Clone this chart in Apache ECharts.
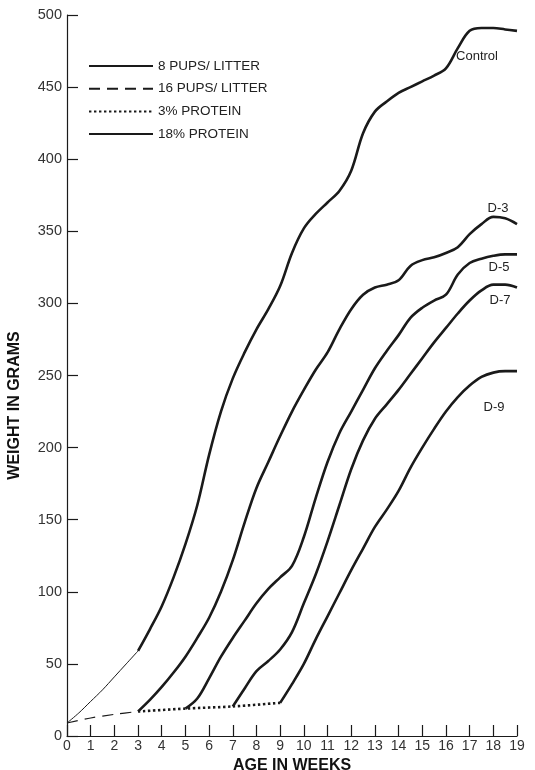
<!DOCTYPE html>
<html><head><meta charset="utf-8">
<script src="https://cdn.jsdelivr.net/npm/echarts@6/dist/echarts.min.js"></script>
<style>html,body{margin:0;padding:0;background:#fff}#c{width:535px;height:770px}</style>
</head><body><div id="c"></div>
<script>
// ---- data ----
const xTicks = [0,1,2,3,4,5,6,7,8,9,10,11,12,13,14,15,16,17,18,19];
const yTicks = [0,50,100,150,200,250,300,350,400,450,500];
const legendNames = ['8 PUPS/ LITTER','16 PUPS/ LITTER','3% PROTEIN','18% PROTEIN'];

// 8 pups/litter (thin solid), weeks 0-3
const pups8X = [0, 0.5, 1, 1.5, 2, 2.5, 3];
const pups8Y = [9, 16, 24, 32, 41, 50, 59];
// 16 pups/litter (dashed), weeks 0-3
const pups16X = [0, 1, 2, 3];
const pups16Y = [9, 12.5, 15, 17];
// 3% protein (dotted), weeks 3-9
const prot3X = [3, 5, 7, 9];
const prot3Y = [17, 19, 20.5, 23];

// 18% protein curves
const controlX = [3,3.5,4,4.5,5,5.5,6,6.5,7,7.5,8,8.5,9,9.5,10,10.5,11,11.5,12,12.5,13,13.5,14,14.5,15,15.5,16,16.5,17,17.5,18,18.5,19];
const controlY = [59,74,90,110,133,160,195,225,248,266,282,296,312,335,352,362,370,378,392,418,433,440,446,450,454,458,463,477,489,491,491,490,489];

const d3X = [3,3.5,4,4.5,5,5.5,6,6.5,7,7.5,8,8.5,9,9.5,10,10.5,11,11.5,12,12.5,13,13.5,14,14.5,15,15.5,16,16.5,17,17.5,18,18.5,19];
const d3Y = [17,25,34,44,55,68,82,100,122,148,172,190,208,225,240,254,266,282,296,306,311,313,316,326,330,332,335,339,348,355,360,359,355];

const d5X = [5,5.5,6,6.5,7,7.5,8,8.5,9,9.5,10,10.5,11,11.5,12,12.5,13,13.5,14,14.5,15,15.5,16,16.5,17,17.5,18,18.5,19];
const d5Y = [19,26,40,55,68,80,92,102,110,118,138,165,190,210,225,240,255,267,278,290,297,302,306,320,328,331,333,334,334];

const d7X = [7,7.5,8,8.5,9,9.5,10,10.5,11,11.5,12,12.5,13,13.5,14,14.5,15,15.5,16,16.5,17,17.5,18,18.5,19];
const d7Y = [20.5,33,45,52,60,72,92,112,135,160,185,205,220,230,240,251,262,273,283,293,302,309,313,313,311];

const d9X = [9,9.5,10,10.5,11,11.5,12,12.5,13,13.5,14,14.5,15,15.5,16,16.5,17,17.5,18,18.5,19];
const d9Y = [23,36,50,67,83,99,115,130,145,157,170,186,200,213,225,235,243,249,252,253,253];

const curveLabels = ['Control','D-3','D-5','D-7','D-9'];

// ---- build ----
const zip = (xs, ys) => xs.map((x, i) => [x, ys[i]]);
const FONT = 'Liberation Sans';
const INK = '#1a1a1a';

const base = { type: 'line', showSymbol: false, symbol: 'none', silent: true,
               itemStyle: { color: INK }, smooth: 0.35 };

const thick = (xs, ys, lbl, off) => Object.assign({}, base, {
  name: '18% PROTEIN', data: zip(xs, ys),
  lineStyle: { color: INK, width: 2.6 },
  endLabel: { show: true, formatter: lbl, color: '#222', fontFamily: FONT, fontSize: 13,
              offset: off, distance: 0, align: 'center', verticalAlign: 'middle' }
});

const series = [
  Object.assign({}, base, { name: legendNames[0], data: zip(pups8X, pups8Y), smooth: 0.3,
    lineStyle: { color: INK, width: 1 } }),
  Object.assign({}, base, { name: legendNames[1], data: zip(pups16X, pups16Y), smooth: 0.3,
    lineStyle: { color: INK, width: 1.2, type: [11, 7] } }),
  Object.assign({}, base, { name: legendNames[2], data: zip(prot3X, prot3Y), smooth: 0.3,
    lineStyle: { color: INK, width: 2.6, type: [2.4, 2.6] } }),
  thick(controlX, controlY, curveLabels[0], [-40, 26]),
  thick(d3X, d3Y, curveLabels[1], [-19, -16]),
  thick(d5X, d5Y, curveLabels[2], [-18, 13]),
  thick(d7X, d7Y, curveLabels[3], [-17, 13]),
  thick(d9X, d9Y, curveLabels[4], [-23, 36])
];

const chart = echarts.init(document.getElementById('c'), null, { renderer: 'canvas' });
chart.setOption({
  animation: false,
  backgroundColor: '#fff',
  grid: { left: 67, right: 18, top: 15, bottom: 34, containLabel: false, outerBoundsMode: 'none' },
  legend: {
    data: legendNames, orient: 'vertical', left: 83, top: 54,
    itemWidth: 64, itemHeight: 14, itemGap: 8.7,
    itemStyle: { opacity: 0 },
    textStyle: { fontFamily: FONT, fontSize: 13.5, color: '#222' },
    selectedMode: false
  },
  xAxis: {
    type: 'value', min: xTicks[0], max: xTicks[xTicks.length - 1], interval: 1,
    name: 'AGE IN WEEKS', nameLocation: 'middle', nameGap: 13,
    nameTextStyle: { fontFamily: FONT, fontSize: 16, color: '#111', fontWeight: 'bold' },
    axisLine: { lineStyle: { color: INK, width: 1.2 } },
    axisTick: { inside: true, length: 11, lineStyle: { color: INK, width: 1.2 } },
    axisLabel: { fontFamily: FONT, fontSize: 14, color: '#333', margin: 3 },
    splitLine: { show: false }
  },
  yAxis: {
    type: 'value', min: yTicks[0], max: yTicks[yTicks.length - 1], interval: 50,
    name: 'WEIGHT IN GRAMS', nameLocation: 'middle', nameGap: 44, nameRotate: 90,
    nameTextStyle: { fontFamily: FONT, fontSize: 16, color: '#111', fontWeight: 'bold',
                     padding: [0, 60, 0, 0] },
    axisLine: { show: true, lineStyle: { color: INK, width: 1.2 } },
    axisTick: { show: true, inside: true, length: 11, lineStyle: { color: INK, width: 1.2 } },
    axisLabel: { fontFamily: FONT, fontSize: 14.5, color: '#333', margin: 5 },
    splitLine: { show: false }
  },
  series: series
});
</script></body></html>
